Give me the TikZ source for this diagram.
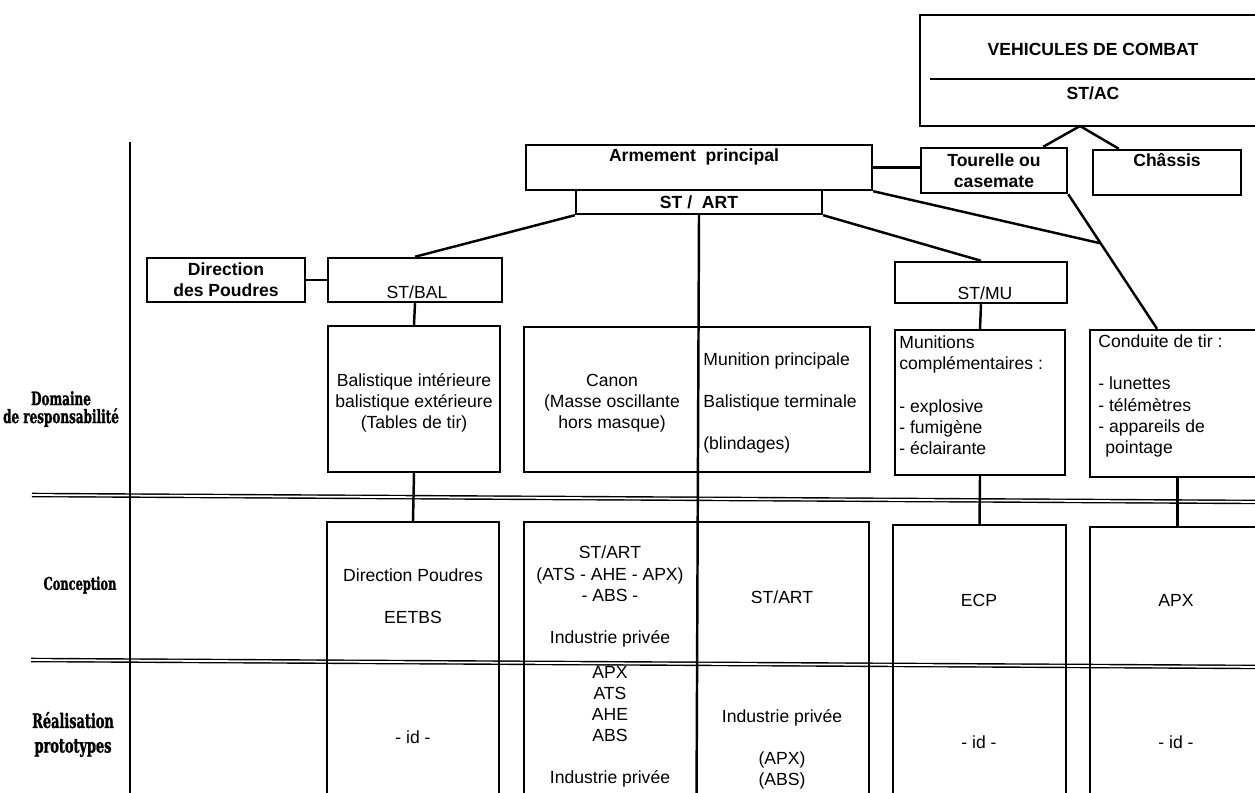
\documentclass[tikz,border=0pt]{standalone}
\usepackage{fontspec}
\setmainfont{Liberation Sans}
\newfontfamily\rowfont[FakeStretch=0.65, FakeBold=1.2]{DejaVu Serif Bold}
\usepackage{tikz}
\usetikzlibrary{positioning}
\usetikzlibrary{calc}

\begin{document}
\begin{tikzpicture}[
    x=0.2mm, y=-0.2mm,  % one unit = one pixel of the sheet
    ]
% -------------------------------------------------
\tikzset{
  box/.style={draw, rectangle, line width=1.4pt, inner sep=0pt},
  txt/.style={font=\fontsize{10}{12}\selectfont, align=center, inner sep=0pt},
  hd/.style={txt, font=\fontsize{10}{12}\selectfont\bfseries},
  row/.style={font=\rowfont, align=center, inner sep=0pt},
  line/.style={draw, line width=1.4pt},
  sep/.style={draw, line width=0.8pt, double distance=1pt}
}
\clip (0,0) rectangle (1255,792);
% -------------------------------------------------
% Row separators and left axis

\path [sep] (32,495) -- (1265,502);
\path [sep] (31,660) -- (1265,667);
\coordinate (axTop) at (130,142);
\coordinate (axBot) at (130,800);
\path [line] (axTop) -- (axBot);

% -------------------------------------------------
% Placing the nodes

\node [box, minimum width=69mm, minimum height=22.2mm] (veh) at (1092.5,70.5) {};
\node [hd] (tVeh) at (1093,49) {VEHICULES DE COMBAT};
\node [hd] (tStac) at (1093,93) {ST/AC};
\node [box, hd, minimum width=29.2mm, minimum height=9mm] (tour) at (994,170.5) {Tourelle ou\\casemate};
\node [box, minimum width=29.6mm, minimum height=9mm] (chas) at (1167,172.5) {};
\node [hd] (tChas) at (1167,160) {Châssis};

\node [box, minimum width=69.2mm, minimum height=9mm] (arm) at (699,167.5) {};
\node [hd] (tArm) at (694,157) {Armement \ principal};
\node [box, hd, minimum width=49.2mm, minimum height=4.8mm] (stArt) at (699,202) {ST / \ ART};

\node [box, hd, minimum width=31.6mm, minimum height=8.8mm] (dirp) at (226,280) {Direction\\des Poudres};
\node [box, minimum width=34.8mm, minimum height=8.8mm] (stbal) at (415,280) {};
\node [txt] (tStbal) at (417,292) {ST/BAL};
\node [box, minimum width=34.4mm, minimum height=8.2mm] (stmu) at (981,282.5) {};
\node [txt] (tStmu) at (985,293) {ST/MU};

% domaine de responsabilite
\node [box, minimum width=34.4mm, minimum height=29.2mm] (bal) at (414,399) {};
\node [txt] (tBal) at (414,403) {Balistique intérieure\\balistique extérieure\\(Tables de tir)};
\node [box, minimum width=69.2mm, minimum height=29mm] (canon) at (697,399.5) {};
\node [txt] (tCanon) at (612,403) {Canon\\(Masse oscillante\\hors masque)};
\node [txt, align=left, anchor=west] (tMunp) at (703,403) {Munition principale\\[4.2mm]Balistique terminale\\[4.2mm](blindages)};
\node [box, minimum width=34mm, minimum height=29mm] (mun) at (980,402.5) {};
\node [txt, align=left, anchor=west] (tMun) at (899,395) {Munitions\\complémentaires :\\[4.4mm]- explosive\\- fumigène\\- éclairante};
\node [box, minimum width=35mm, minimum height=29.4mm] (cdt) at (1177.5,403.5) {};
\node [txt, align=left, anchor=west] (tCdt) at (1098,396) {Conduite de tir :\\[4.2mm]- lunettes\\- télémètres\\- appareils de\\\hspace*{1.4mm}pointage};

% conception et realisation
\node [box, minimum width=34.4mm, minimum height=55.6mm] (cpBal) at (413,661) {};
\node [box, minimum width=69mm, minimum height=55.6mm] (cpArt) at (696.5,661) {};
\node [box, minimum width=34.6mm, minimum height=55mm] (cpEcp) at (979.5,662.5) {};
\node [box, minimum width=35mm, minimum height=54.6mm] (cpApx) at (1177.5,663.5) {};

\node [txt] (tCpBal) at (413,596) {Direction Poudres\\[4.2mm]EETBS};
\node [txt] (tCpArtL) at (610,596.5) {ST/ART\\(ATS - AHE - APX)\\- ABS -\\[4.2mm]Industrie privée};
\node [txt] (tCpArtR) at (782,597) {ST/ART};
\node [txt] (tCpEcp) at (979,600) {ECP};
\node [txt] (tCpApx) at (1176,600) {APX};

\node [txt] (tRBal) at (413,737) {- id -};
\node [txt] (tRArtL) at (610,726.5) {APX\\ATS\\AHE\\ABS\\[4.2mm]Industrie privée};
\node [txt] (tRArtR) at (782,749.5) {Industrie privée\\[4.2mm](APX)\\(ABS)};
\node [txt] (tREcp) at (979,742) {- id -};
\node [txt] (tRApx) at (1176,742) {- id -};

% row titles
\node [row, font=\rowfont\fontsize{10.5}{10.2}\selectfont] (lDom) at (61,409) {Domaine\\de responsabilité};
\node [row, font=\rowfont\fontsize{10}{11}\selectfont] (lCon) at (80,585) {Conception};
\node [row, font=\rowfont\fontsize{11.3}{14}\selectfont] (lRea) at (73,734.5) {Réalisation\\prototypes};

% -------------------------------------------------
% Connectors

\coordinate (vehB) at (1080,126);
\coordinate (vehL) at (930,79);
\path [line] (vehL) -- (vehL -| veh.east);
\path [line] (vehB) -- ([xshift=-5mm]tour.north east);
\path [line] (vehB) -- ([xshift=5.4mm]chas.north west);
\path [line] (arm.east) -- (arm.east -| tour.west);

\coordinate (cdtTop) at ([xshift=-4.1mm]cdt.north);
\coordinate (jn) at ($(tour.south east)!0.365!(cdtTop)$);
\path [line] (tour.south east) -- (cdtTop);
\path [line] (arm.south east) -- (jn);

\path [line] (stArt.south west) -- (stbal.north);
\path [line] (stArt.south) -- (cpArt.south);
\path [line] (stArt.south east) -- (stmu.north);
\path [line] (dirp.east) -- (stbal.west);
\path [line] (stbal.south) -- (bal.north);
\path [line] (stmu.south) -- (mun.north);
\path [line] (bal.south) -- (cpBal.north);
\path [line] (mun.south) -- (cpEcp.north);
\path [line] (cdt.south) -- (cpApx.north);

\end{tikzpicture}
\end{document}
